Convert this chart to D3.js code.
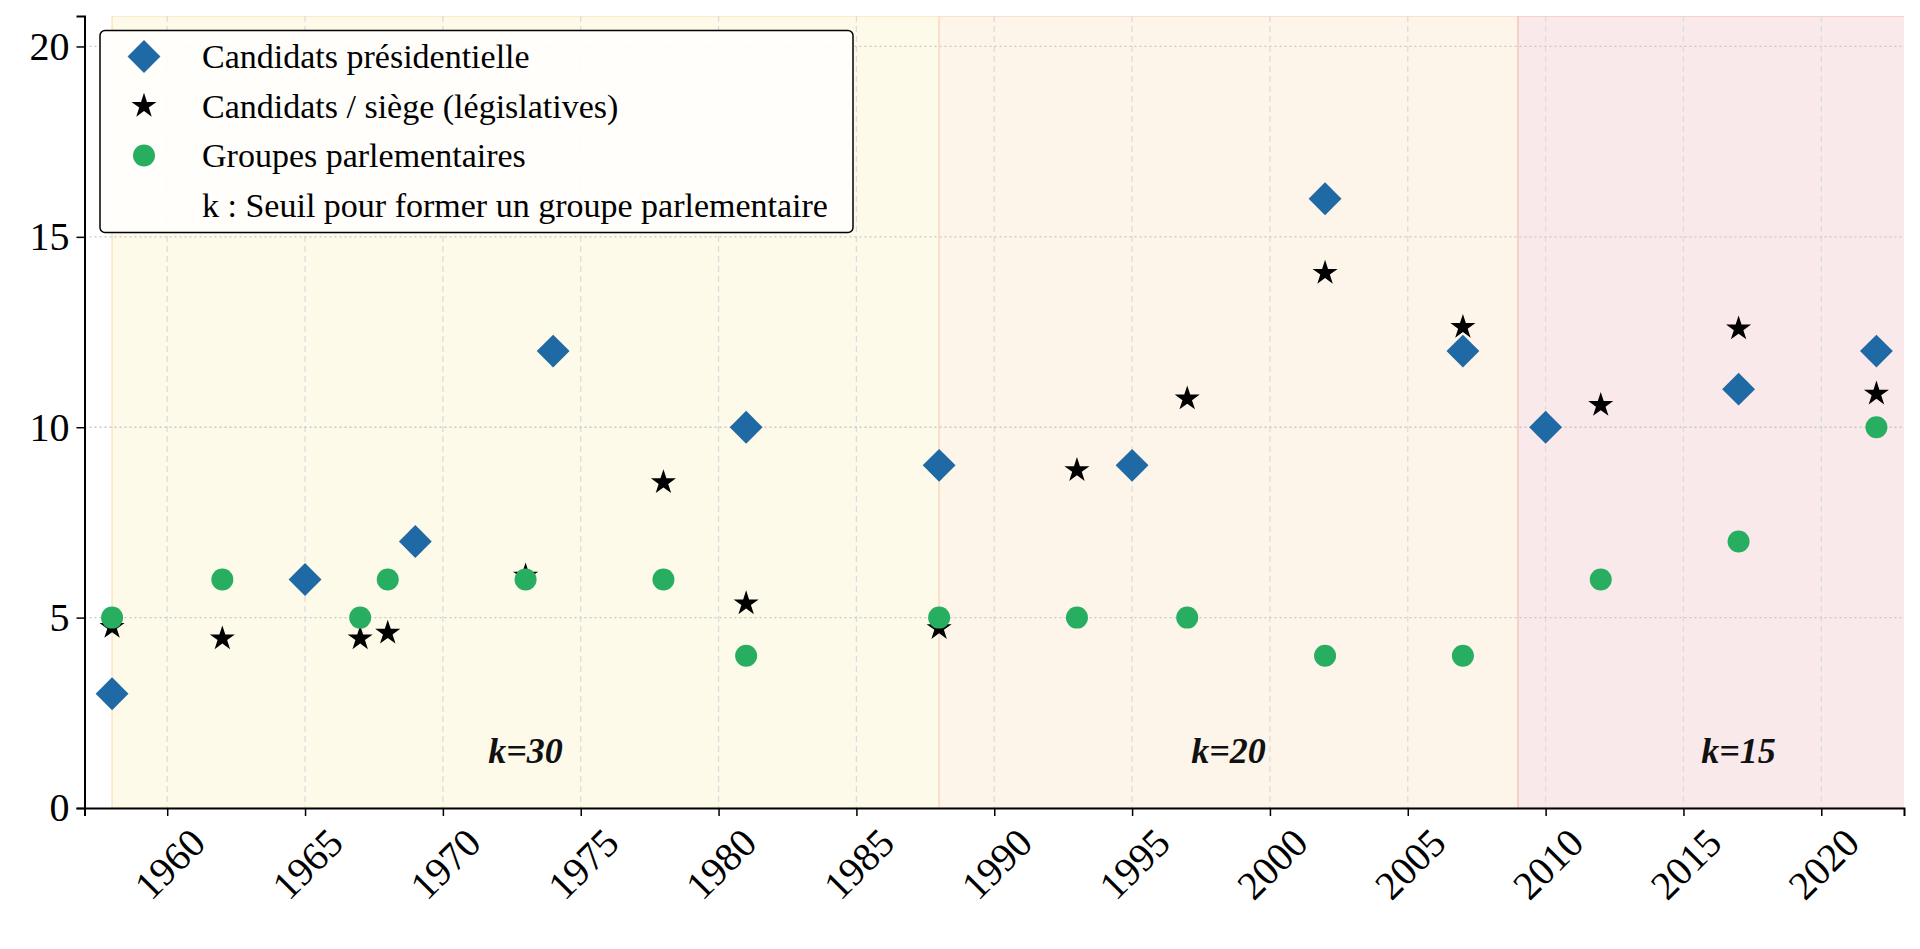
<!DOCTYPE html>
<html>
<head>
<meta charset="utf-8">
<script src="https://cdn.jsdelivr.net/npm/d3@7"></script>
<style>
  body { margin: 0; background: #fff; }
  svg { display: block; font-family: "Liberation Serif", "DejaVu Serif", serif; }
</style>
</head>
<body>
<div id="chart"></div>
<script>
// presidential elections: number of candidates
const presYears = [1958, 1965, 1969, 1974, 1981, 1988, 1995, 2002, 2007, 2010, 2017, 2022]
const presValues = [3, 6, 7, 12, 10, 9, 9, 16, 12, 10, 11, 12]

// legislative elections: candidates per seat, and parliamentary groups
const legYears = [1958, 1962, 1967, 1968, 1973, 1978, 1981, 1988, 1993, 1997, 2002, 2007, 2012, 2017, 2022]
const seatValues = [4.75, 4.45, 4.45, 4.6, 6.1, 8.55, 5.37, 4.72, 8.87, 10.75, 14.05, 12.63, 10.58, 12.59, 10.88]
const groupValues = [5, 6, 5, 6, 6, 6, 4, 5, 5, 5, 4, 4, 6, 7, 10]

// threshold periods
const periodStart = [1958, 1988, 2009]
const periodEnd = [1988, 2009, 2025]
const periodLabels = ["k=30", "k=20", "k=15"]
const periodLabelX = [1973, 1998.5, 2017]
const periodLabelY = 1.5

const xTicks = [1960, 1965, 1970, 1975, 1980, 1985, 1990, 1995, 2000, 2005, 2010, 2015, 2020]
const yTicks = [0, 5, 10, 15, 20]

const legendLabels = ["Candidats présidentielle", "Candidats / siège (législatives)", "Groupes parlementaires", "k : Seuil pour former un groupe parlementaire"]

const W = 1920, H = 949
const margin = {top: 16, right: 16, bottom: 141, left: 84.5}
const width = W - margin.left - margin.right
const height = H - margin.top - margin.bottom

const bandFill = ["#fdfaea", "#fdf4ea", "#fae9ea"]
const bandEdge = ["#fbe6bd", "#f9dcc6", "#f5c9bd"]
const blue = "#1f69a4", green = "#27ae60"

const svg = d3.select("#chart").append("svg")
    .attr("width", W)
    .attr("height", H)

const g = svg.append("g")
    .attr("transform", `translate(${margin.left},${margin.top})`)

const xScale = d3.scaleLinear().domain([1957, 2023]).range([0, width])
const yScale = d3.scaleLinear().domain([0, 20.8]).range([height, 0])

g.append("clipPath").attr("id", "clip")
    .append("rect").attr("width", width).attr("height", height)

// coloured periods
const bands = g.append("g").attr("clip-path", "url(#clip)")
bands.selectAll("rect")
    .data(periodStart)
    .join("rect")
    .attr("x", (d) => xScale(d))
    .attr("y", 0)
    .attr("width", (d, i) => xScale(periodEnd[i]) - xScale(d))
    .attr("height", height)
    .attr("fill", (d, i) => bandFill[i])
    .attr("stroke", (d, i) => bandEdge[i])
    .attr("stroke-width", 1.5)

// grid
g.append("g").selectAll("line")
    .data(xTicks)
    .join("line")
    .attr("x1", (d) => xScale(d)).attr("x2", (d) => xScale(d))
    .attr("y1", 0).attr("y2", height)
    .attr("stroke", "#dcdcdc")
    .attr("stroke-width", 1.3)
    .attr("stroke-dasharray", "6,4")

g.append("g").selectAll("line")
    .data(yTicks.slice(1))
    .join("line")
    .attr("x1", 0).attr("x2", width)
    .attr("y1", (d) => yScale(d)).attr("y2", (d) => yScale(d))
    .attr("stroke", "#c8c8c8")
    .attr("stroke-width", 1.3)
    .attr("stroke-dasharray", "2,3")

// period labels
g.append("g").selectAll("text")
    .data(periodLabels)
    .join("text")
    .attr("x", (d, i) => xScale(periodLabelX[i]))
    .attr("y", yScale(periodLabelY))
    .attr("text-anchor", "middle")
    .attr("dominant-baseline", "central")
    .attr("font-weight", "bold")
    .attr("font-style", "italic")
    .attr("font-size", 36)
    .attr("fill", "#111")
    .text((d) => d)

// markers
const diamond = d3.symbol().type(d3.symbolSquare).size(540)
const star = d3.symbol().type(d3.symbolStar).size(195)

g.append("g").selectAll("path")
    .data(presYears)
    .join("path")
    .attr("d", diamond)
    .attr("transform", (d, i) => `translate(${xScale(d)},${yScale(presValues[i])}) rotate(45)`)
    .attr("fill", blue)

g.append("g").selectAll("path")
    .data(legYears)
    .join("path")
    .attr("d", star)
    .attr("transform", (d, i) => `translate(${xScale(d)},${yScale(seatValues[i])})`)
    .attr("fill", "#000")

g.append("g").selectAll("circle")
    .data(legYears)
    .join("circle")
    .attr("cx", (d) => xScale(d))
    .attr("cy", (d, i) => yScale(groupValues[i]))
    .attr("r", 11)
    .attr("fill", green)

// axes
const xAxis = g.append("g")
    .attr("transform", `translate(0,${height})`)
    .call(d3.axisBottom(xScale).tickValues(xTicks).tickSizeOuter(0).tickSize(8).tickFormat(d3.format("d")))
xAxis.select(".domain").attr("stroke", "#000").attr("stroke-width", 2)
xAxis.selectAll(".tick line").attr("stroke", "#000").attr("stroke-width", 1.5)
xAxis.selectAll(".tick text")
    .attr("font-family", "Liberation Serif, serif")
    .attr("font-size", 40)
    .attr("fill", "#000")
    .attr("text-anchor", "middle")
    .attr("dominant-baseline", "central")
    .attr("y", 0).attr("dy", 0)
    .attr("transform", "translate(2,56) rotate(-45)")

const yAxis = g.append("g")
    .call(d3.axisLeft(yScale).tickValues(yTicks).tickSizeOuter(0).tickSize(8).tickPadding(7))
yAxis.select(".domain").attr("stroke", "#000").attr("stroke-width", 2)
yAxis.selectAll(".tick line").attr("stroke", "#000").attr("stroke-width", 1.5)
yAxis.selectAll(".tick text")
    .attr("font-family", "Liberation Serif, serif")
    .attr("font-size", 40)
    .attr("fill", "#000")

// legend
const legend = g.append("g").attr("transform", `translate(${100 - margin.left},${30.5 - margin.top})`)
legend.append("rect")
    .attr("width", 753)
    .attr("height", 202)
    .attr("rx", 5)
    .attr("fill", "#fffefc")
    .attr("fill-opacity", 0.92)
    .attr("stroke", "#000")
    .attr("stroke-width", 1.5)

const rowY = (i) => 26 + i * 49.5
legend.append("path").attr("d", diamond).attr("fill", blue)
    .attr("transform", `translate(44,${rowY(0)}) rotate(45)`)
legend.append("path").attr("d", star).attr("fill", "#000")
    .attr("transform", `translate(44,${rowY(1)})`)
legend.append("circle").attr("r", 11).attr("fill", green)
    .attr("cx", 44).attr("cy", rowY(2))

legend.selectAll(".lbl")
    .data(legendLabels)
    .join("text")
    .attr("class", "lbl")
    .attr("x", 102)
    .attr("y", (d, i) => rowY(i))
    .attr("dominant-baseline", "central")
    .attr("font-size", 34)
    .attr("fill", "#000")
    .text((d) => d)
</script>
</body>
</html>
